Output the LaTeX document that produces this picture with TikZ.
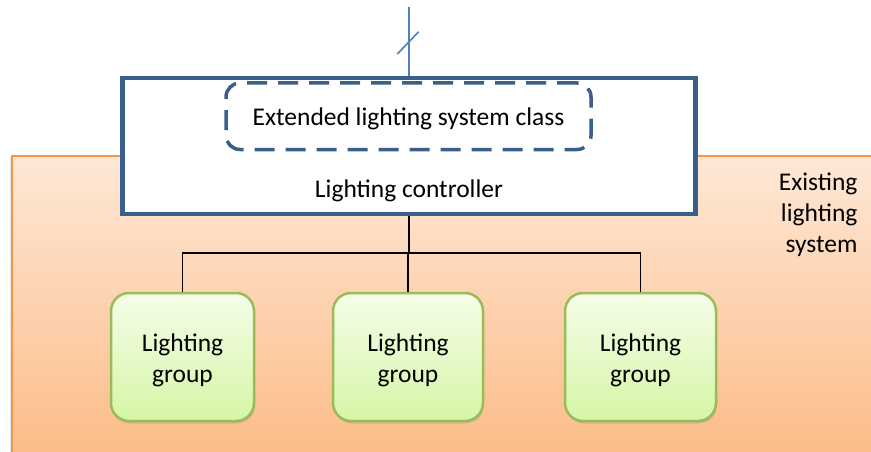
\documentclass[tikz,border=0pt]{standalone}
\usepackage{fontspec}
\setmainfont{Carlito}
\usepackage{tikz}
\usetikzlibrary{positioning,shadows}

\definecolor{ctrlblue}{RGB}{58,95,139}
\definecolor{feedblue}{RGB}{79,129,189}
\definecolor{sysorange}{RGB}{247,150,70}
\definecolor{systop}{RGB}{254,232,214}
\definecolor{sysbottom}{RGB}{252,186,132}
\definecolor{grpgreen}{RGB}{155,187,89}
\definecolor{grptop}{RGB}{245,253,233}
\definecolor{grpbottom}{RGB}{213,246,166}

\tikzset{
    every node/.style={font=\fontsize{25.5}{31}\selectfont},
    sysbox/.style={draw=sysorange, line width=2pt, top color=systop, bottom color=sysbottom},
    ctrlbox/.style={draw=ctrlblue, line width=4.5pt, fill=white, minimum width=573pt, minimum height=136pt, inner sep=0pt},
    classbox/.style={draw=ctrlblue, line width=3.5pt, dash pattern=on 20pt off 11pt, rounded corners=14pt, minimum width=365pt, minimum height=66.5pt, inner sep=0pt, text depth=0pt},
    groupbox/.style={draw=grpgreen, line width=2.5pt, rounded corners=18pt, top color=grptop, bottom color=grpbottom, minimum height=128pt, inner sep=0pt, align=center, drop shadow={opacity=0.25, shadow xshift=1pt, shadow yshift=-2.5pt}},
    feed/.style={feedblue, line width=1.6pt},
    bus/.style={black, line width=1.6pt},
}

\begin{document}
\begin{tikzpicture}[x=1pt, y=-1pt]

                \useasboundingbox (0,0) rectangle (871,452);

                % existing system
                \path [sysbox, drop shadow={opacity=0.2, shadow xshift=-1.5pt, shadow yshift=-1pt}] (11.5,155.5) rectangle (890,470);
                \node [anchor=east, align=right] (existing-label) at (861,214.5) {Existing\\lighting\\system};

                % controller
                \node [ctrlbox] (ctrl) at (409,146) {};
                \node [classbox] (class) at (408.5,116.25) {Extended lighting system class};
                \node [anchor=base] (ctrl-label) at (409,197) {Lighting controller};

                % feed line
                \coordinate (feed) at (409,7);
                \draw [feed] (feed) -- (ctrl.north);
                \draw [feed] (397.3,54) -- (418.7,31.7);

                % lighting groups
                \foreach \x/\w [count=\i] in {182.5/143,408/150,640.5/151}
                    \node [groupbox, minimum width=\w pt] (group-\i) at (\x,357) {\rule{0pt}{24pt}Lighting\\group};

                % lines from controller to groups
                \coordinate (bus) at (409,253);
                \draw [bus] (ctrl.south) -- (bus);
                \foreach \i in {1,...,3}
                    \draw [bus] (bus) -| (group-\i.north);

\end{tikzpicture}
\end{document}
